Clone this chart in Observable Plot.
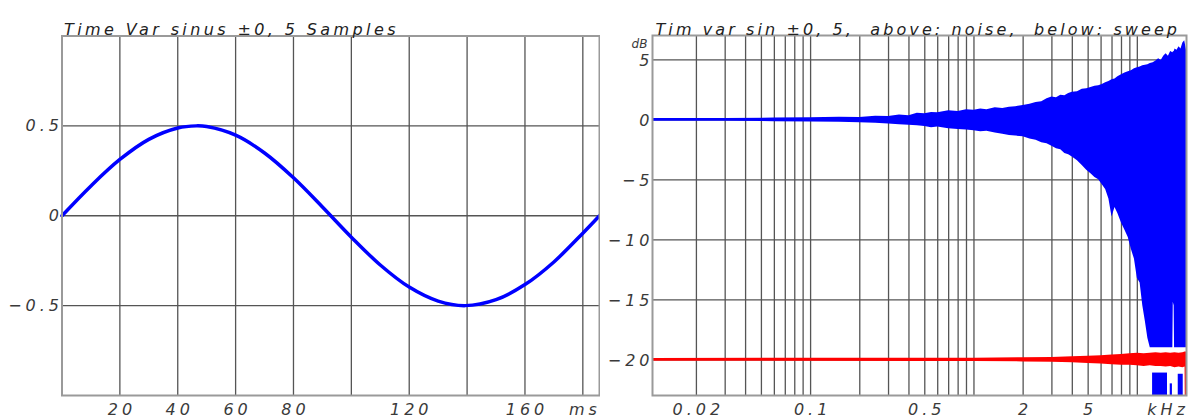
<!DOCTYPE html>
<html><head><meta charset="utf-8">
<script src="https://cdn.jsdelivr.net/npm/d3@7"></script>
<script src="https://cdn.jsdelivr.net/npm/@observablehq/plot@0.6"></script>
<style>
body{margin:0;background:#fff;}
#wrap{position:relative;width:1190px;height:419px;overflow:hidden;background:#fff;}
#left{position:absolute;left:0;top:0;}
#right{position:absolute;left:600px;top:0;}
</style></head><body><div id="wrap"><div id="left"></div><div id="right"></div></div>
<script>
// ---------- left panel data ----------
const leftTitle = "Time Var sinus \u00b10, 5 Samples";
const timeMs   = [0,10,20,30,40,46.4,50,60,70,80,90,100,110,120,130,139.3,150,160,170,180,185.76];
const sineVal  = [0,0.166,0.313,0.425,0.488,0.5,0.496,0.448,0.349,0.211,0.049,-0.119,-0.274,-0.397,-0.475,-0.5,-0.467,-0.383,-0.257,-0.097,0];
const timeGrid = [20,40,60,80,100,120,140,160,180];
const timeTicks = [20,40,60,80,120,160,180];
const timeUnitTick = 180;
const ampTicks = [0.5,0,-0.5];

// ---------- right panel data ----------
const rightTitle = "Tim var sin \u00b10, 5,  above: noise,  below: sweep";
const freqGrid = [0.02,0.03,0.04,0.05,0.06,0.07,0.08,0.09,0.1,0.2,0.3,0.4,0.5,0.6,0.7,0.8,0.9,1,2,3,4,5,6,7,8,9,10];
const freqTicks = [0.02,0.1,0.5,2,5,15];
const freqUnitTick = 15;
const dbTicks = [5,0,-5,-10,-15,-20];

const noiseF  = [0.01077,0.03,0.06,0.1,0.15,0.2,0.25,0.3,0.35,0.4,0.45,0.5,0.55,0.6,0.7,0.8,0.9,1.0,1.1,1.2,1.35,1.5,1.65,1.8,2.0,2.2,2.4,2.6,2.8,3.0,3.2,3.4,3.6,3.8,4.0,4.3,4.6,4.9,5.2,5.5,5.8,6.1,6.4,6.7,7.0,7.3,7.6,8.0,8.4,8.8,9.2,9.6,10.0,10.4,10.8,11.2,11.6,12.0,12.5,13,13.5,14,14.5,15,15.5,16,16.5,16.6,16.8,16.9,17,17.5,18,18.5,19,19.5,20];
const noiseHi = [0.12,0.12,0.15,0.18,0.22,0.2,0.3,0.28,0.4,0.35,0.55,0.5,0.62,0.6,0.75,0.7,0.85,0.8,0.9,0.85,1.0,0.95,1.05,1.1,1.2,1.3,1.45,1.5,1.75,1.9,1.85,2.05,2.0,2.2,2.3,2.35,2.55,2.6,2.7,2.8,2.85,2.95,3.1,3.2,3.35,3.4,3.6,3.75,3.9,4.0,4.1,4.25,4.35,4.4,4.5,4.55,4.6,4.7,4.75,4.9,5.1,4.95,5.3,5.5,5.3,5.7,5.6,5.65,5.7,5.75,5.9,5.8,6.1,5.9,6.4,6.6,5.8];
const noiseLo = [-0.12,-0.12,-0.15,-0.18,-0.2,-0.25,-0.28,-0.35,-0.4,-0.45,-0.5,-0.55,-0.65,-0.6,-0.75,-0.8,-0.85,-0.9,-1.0,-0.95,-1.1,-1.2,-1.3,-1.35,-1.4,-1.6,-1.7,-1.9,-2.0,-2.2,-2.4,-2.5,-2.8,-2.9,-3.1,-3.4,-3.8,-4.2,-4.5,-4.8,-5.0,-5.4,-5.8,-6.6,-8.1,-7.3,-7.8,-8.6,-9.2,-9.8,-10.8,-11.6,-13.2,-13.6,-15.5,-16.8,-18.2,-19.0,-19.0,-19.0,-19.0,-19.0,-19.0,-19.0,-19.0,-19.0,-19.0,-15.2,-15.5,-19.0,-19.0,-19.0,-19.0,-19.0,-19.0,-19.0,-19.0];

const lowBlockStart = [12.4,15.9,17.8];
const lowBlockEnd   = [15.3,16.4,19.1];
const lowBlockTop   = [-21.1,-22.0,-21.2];

const sweepF  = [0.01077,0.5,1,2,3,4,5,6,7,8,9,10,11,12,13,14,15,16,17,18,19,19.6,19.65,20];
const sweepHi = [-19.88,-19.87,-19.86,-19.83,-19.8,-19.75,-19.7,-19.65,-19.6,-19.55,-19.5,-19.45,-19.5,-19.45,-19.4,-19.45,-19.4,-19.45,-19.4,-19.45,-19.4,-19.35,-19.35,-19.35];
const sweepLo = [-20.12,-20.13,-20.14,-20.17,-20.2,-20.25,-20.3,-20.35,-20.4,-20.45,-20.45,-20.5,-20.55,-20.5,-20.55,-20.55,-20.6,-20.55,-20.65,-20.6,-20.65,-20.6,-23,-23];

// ---------- build tables ----------
const sine = timeMs.map((t,i)=>({t, v:sineVal[i]}));
const noise = noiseF.map((f,i)=>({f, hi:noiseHi[i], lo:noiseLo[i]}));
const sweep = sweepF.map((f,i)=>({f, hi:sweepHi[i], lo:sweepLo[i]}));
const blocks = lowBlockStart.map((s,i)=>({s, e:lowBlockEnd[i], top:lowBlockTop[i]}));

const baseStyle = {fontFamily:"DejaVu Sans", fontStyle:"italic", fontSize:"16px", color:"#3a3a3a", background:"white", letterSpacing:"4px", overflow:"visible"};
const gridStroke = "#555";
const frameStroke = "#9a9a9a";

const leftPlot = Plot.plot({
  width:600, height:419, marginLeft:61.5, marginRight:1, marginTop:35.5, marginBottom:24,
  style: baseStyle,
  x:{domain:[0,185.76], axis:null},
  y:{domain:[-1,1], axis:null},
  marks:[
    Plot.ruleX(timeGrid, {stroke:gridStroke, strokeWidth:1.3}),
    Plot.ruleY(ampTicks, {stroke:gridStroke, strokeWidth:1.3}),
    Plot.line(sine, {x:"t", y:"v", stroke:"#0000ff", strokeWidth:3.5, curve:"catmull-rom"}),
    Plot.frame({stroke:frameStroke, strokeWidth:2}),
    Plot.axisX(timeTicks, {label:null, tickSize:0, tickPadding:8, dx:2, tickFormat:d=> d===timeUnitTick ? "ms" : String(d)}),
    Plot.axisY(ampTicks, {label:null, tickSize:0, tickPadding:-1, tickFormat:d=> d===0 ? "0" : d3.format(".1f")(d)}),
    Plot.text([leftTitle], {frameAnchor:"top-left", dx:2, dy:-12.5, textAnchor:"start", fill:"#222"})
  ]
});

const rightPlot = Plot.plot({
  width:590, height:419, marginLeft:52, marginRight:4, marginTop:35, marginBottom:24,
  style: baseStyle,
  x:{type:"log", domain:[0.01077,20], axis:null},
  y:{domain:[-22.97,7.03], axis:null},
  marks:[
    Plot.ruleX(freqGrid, {stroke:gridStroke, strokeWidth:1.3}),
    Plot.ruleY(dbTicks, {stroke:gridStroke, strokeWidth:1.3}),
    Plot.areaY(noise, {x:"f", y1:"lo", y2:"hi", fill:"#0000ff"}),
    Plot.rect(blocks, {x1:"s", x2:"e", y1:-22.97, y2:"top", fill:"#0000ff"}),
    Plot.areaY(sweep, {x:"f", y1:"lo", y2:"hi", fill:"#ff0000"}),
    Plot.frame({stroke:frameStroke, strokeWidth:2}),
    Plot.text(freqTicks, {x:d=>d, frameAnchor:"bottom", lineAnchor:"top", dy:8, dx:2,
      text:d=> d===freqUnitTick ? "kHz" : String(d), fill:"currentColor"}),
    Plot.axisY(dbTicks, {label:null, tickSize:0, tickPadding:-1, dy:1, tickFormat:d=> d3.format("d")(d)}),
    Plot.text(["dB"], {frameAnchor:"top-left", dx:-13, dy:4, fontSize:12, textAnchor:"middle"}),
    Plot.text([rightTitle], {frameAnchor:"top-left", dx:3, dy:-12, textAnchor:"start", fill:"#222"})
  ]
});

document.getElementById("left").appendChild(leftPlot);
document.getElementById("right").appendChild(rightPlot);

function fitTitle(svg, str, len){
  svg.querySelectorAll("text").forEach(t=>{
    if (t.textContent === str){
      t.style.letterSpacing = "0.5px";
      t.style.wordSpacing = "0px";
      t.style.whiteSpace = "pre";
      t.setAttribute("textLength", len);
      t.setAttribute("lengthAdjust", "spacing");
    }
  });
}
fitTitle(leftPlot, leftTitle, 332);
fitTitle(rightPlot, rightTitle, 522);
rightPlot.querySelectorAll("text").forEach(t=>{ if (t.textContent==="dB") t.style.letterSpacing="0px"; });
</script>
</body></html>
